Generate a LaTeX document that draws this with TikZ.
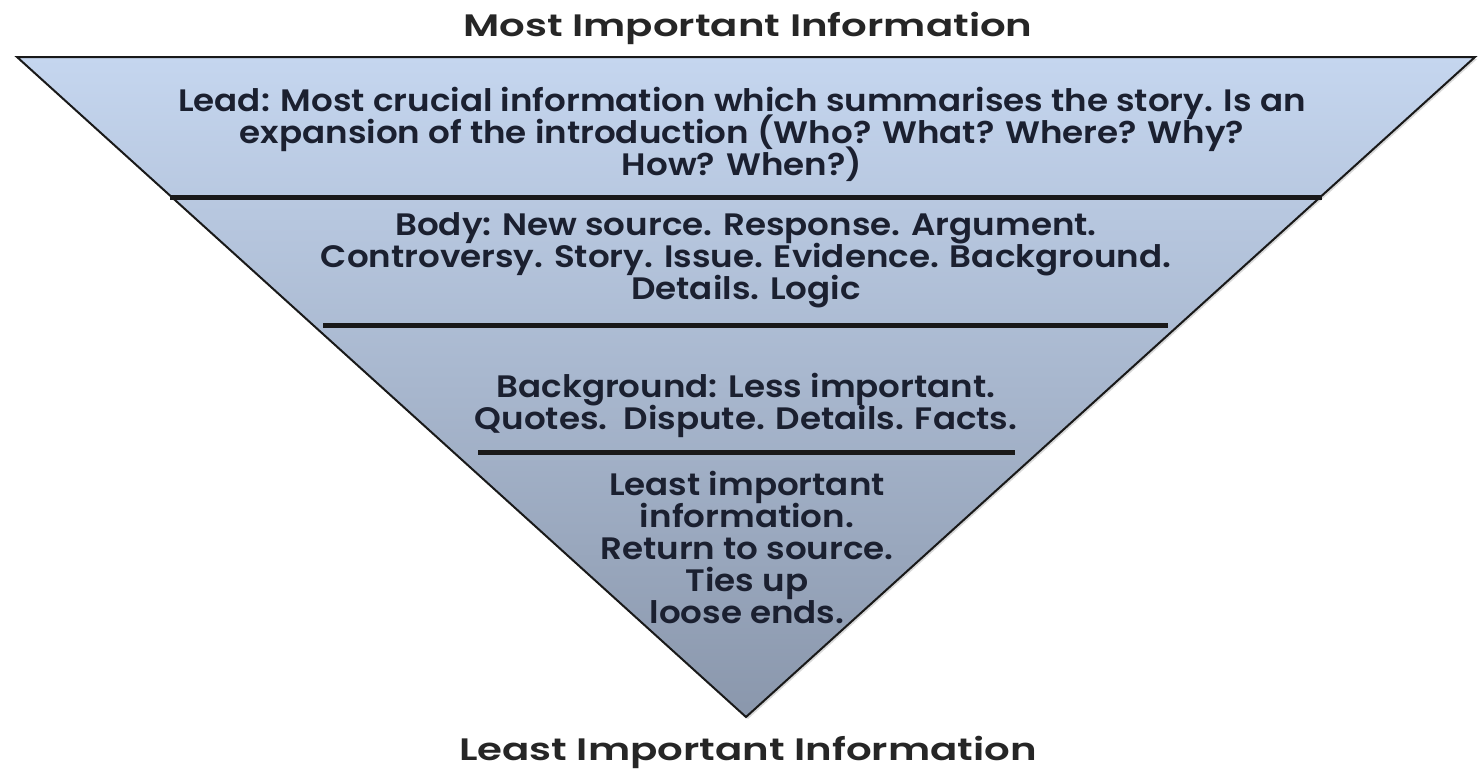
\documentclass[tikz,border=0pt]{standalone}
\usepackage{fontspec}
\setmainfont{Poppins}
\newfontfamily\layerfont{Poppins SemiBold}[FakeStretch=1.1]
\newfontfamily\headfont{Poppins SemiBold}[FakeStretch=1.3]
\newcommand{\tightlines}{\setlength{\lineskiplimit}{-20pt}}
\usetikzlibrary{positioning,shadows}
\definecolor{leadblue}{HTML}{C5D6EF}
\definecolor{tipblue}{HTML}{8A97AC}
\definecolor{inkblue}{HTML}{1B2030}
\tikzset{
    %Define style for layer texts
    layer/.style={
           align=center,
           font=\layerfont\fontsize{15.5}{16}\selectfont\tightlines,
           text=inkblue,
           inner sep=0pt},
    %Define style for the two headings
    heading/.style={
           font=\headfont\fontsize{15.5}{18}\selectfont,
           text=black!85,
           inner sep=0pt,
           anchor=base},
    %Define style for the dividing lines
    divider/.style={
           line width=2.5pt,
           draw=black!90,
           drop shadow={opacity=0.25,shadow xshift=0.6pt,shadow yshift=-0.8pt}}
}

\begin{document}
\begin{tikzpicture}[x=0.5pt,y=-0.5pt]
\useasboundingbox (0,0) rectangle (1478,768);
 %corners
\coordinate (tl) at (17,57);
\coordinate (tr) at (1475,57);
\coordinate (apex) at (746,717);
 %pyramid
\draw[top color=leadblue, bottom color=tipblue, draw=black!90, line width=1pt,
  drop shadow={opacity=0.3,shadow xshift=1pt,shadow yshift=-1pt}]
  (tl) -- (tr) -- (apex) -- cycle;
 %dividers
\coordinate (d1l) at (170,197);
\coordinate (d1r) at (1322,197);
\coordinate (d2l) at (323,325);
\coordinate (d2r) at (1168,325);
\coordinate (d3l) at (478,452);
\coordinate (d3r) at (1015,452);
\draw[divider] (d1l) -- (d1r);
\draw[divider] (d2l) -- (d2r);
\draw[divider] (d3l) -- (d3r);
 %texts
\node[heading](top) at (748,36){Most Important Information};
\node[heading](bottom) at (748,760){Least Important Information};
\node[layer](lead) at (742,134){Lead: Most crucial information which summarises the story. Is an\\
  expansion of the introduction (Who? What? Where? Why?\\ How? When?)};
\node[layer](body) at (746,260){Body: New source. Response. Argument.\\
  Controversy. Story. Issue. Evidence. Background.\\ Details. Logic};
\node[layer](back) at (746,405){Background: Less important.\\
  Quotes.\ \ Dispute. Details. Facts.};
\node[layer](least) at (747,547){Least important\\ information.\\
  Return to source.\\ Ties up\\ loose ends.};
\end{tikzpicture}
\end{document}
